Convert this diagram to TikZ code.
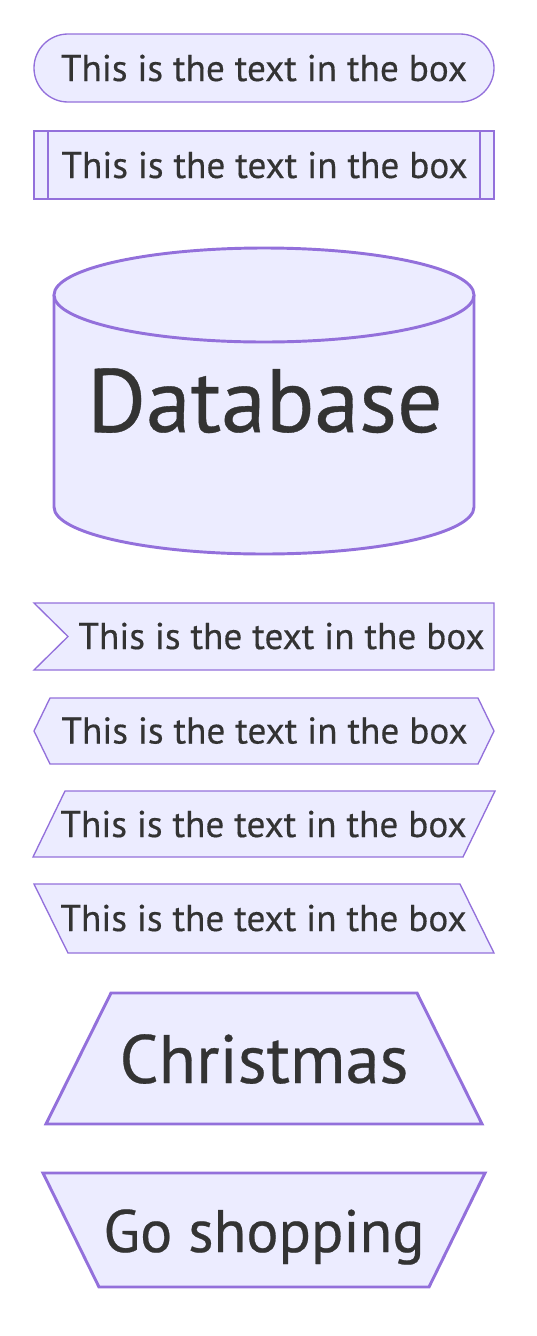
\documentclass[tikz,border=0pt]{standalone}
\usepackage{fontspec}
\setmainfont{PT Sans}[FakeBold=0.4]
\definecolor{boxfill}{HTML}{ECECFF}
\definecolor{boxline}{HTML}{9370DB}
\definecolor{ink}{HTML}{333333}
\tikzset{
  boxshape/.style={fill=boxfill, draw=boxline, line width=1pt},
  bigshape/.style={fill=boxfill, draw=boxline, line width=2.2pt},
  boxtext/.style={anchor=base, inner sep=0pt, text=ink, font=\fontsize{27.9}{32}\selectfont},
}
\begin{document}
\begin{tikzpicture}[x=0.75pt, y=0.75pt]
    \useasboundingbox (0,0) rectangle (536,-1336);

    % Stadium
    \draw[boxshape, rounded corners=25.5pt] (34,-34) rectangle (494,-102);
    \node[boxtext] (stadiumtxt) at (264,-81) {This is the text in the box};

    % Subroutine
    \draw[boxshape] (34,-131) rectangle (494,-199);
    \draw[boxshape] (48,-131) -- (48,-199);
    \draw[boxshape] (480,-131) -- (480,-199);
    \node[boxtext] (subtxt) at (264.5,-178) {This is the text in the box};

    % Database
    \fill[boxfill] (54,-295) rectangle (474,-507);
    \draw[bigshape] (54,-295) -- (54,-507) arc (180:360:210 and 47) -- (474,-295);
    \draw[bigshape] (264,-295) ellipse (210 and 47);
    \node[boxtext, font=\fontsize{67.5}{78}\selectfont] (dbtxt) at (265,-432) {Database};

    % Flag
    \draw[boxshape] (34,-603) -- (494,-603) -- (494,-670) -- (34,-670) -- (68,-636.5) -- cycle;
    \node[boxtext] (flagtxt) at (281.5,-649) {This is the text in the box};

    % Hexagon
    \draw[boxshape] (34,-731) -- (50,-698) -- (478,-698) -- (494,-731) -- (478,-764) -- (50,-764) -- cycle;
    \node[boxtext] (hextxt) at (264.5,-743.5) {This is the text in the box};

    % Lean right
    \draw[boxshape] (65,-791) -- (495,-791) -- (463,-857) -- (33,-857) -- cycle;
    \node[boxtext] (leanrtxt) at (263.5,-837) {This is the text in the box};

    % Lean left
    \draw[boxshape] (34,-884) -- (460,-884) -- (494,-953) -- (68,-953) -- cycle;
    \node[boxtext] (leanltxt) at (263.5,-931) {This is the text in the box};

    % Trapezoid
    \draw[bigshape] (111,-993) -- (417,-993) -- (482,-1124) -- (46,-1124) -- cycle;
    \node[boxtext, font=\fontsize{51.4}{60}\selectfont] (xmastxt) at (264,-1083) {Christmas};

    % Inverted trapezoid
    \draw[bigshape] (43,-1173) -- (485,-1173) -- (429,-1287) -- (99,-1287) -- cycle;
    \node[boxtext, font=\fontsize{45}{54}\selectfont] (shoptxt) at (264,-1252) {Go shopping};
\end{tikzpicture}
\end{document}
